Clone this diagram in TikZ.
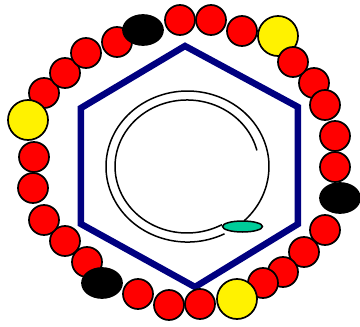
\documentclass[tikz,border=0pt]{standalone}
\usetikzlibrary{shapes.geometric}
\definecolor{hexnavy}{RGB}{0,0,128}
\definecolor{tealbead}{RGB}{0,204,153}
\tikzset{
  bead/.style={circle,draw=black,line width=1.7pt,inner sep=0pt,minimum size=#1},
  redbead/.style={bead=30pt,fill=red},
  yellowbead/.style={bead=40pt,fill=yellow},
  blackbead/.style={ellipse,draw=black,fill=black,line width=1.7pt,inner sep=0pt,minimum width=40pt,minimum height=30pt},
  tealbeadst/.style={ellipse,draw=black,fill=tealbead,line width=1.5pt,inner sep=0pt,minimum width=40pt,minimum height=11pt},
  hexline/.style={draw=hexnavy,line width=6.5pt},
  spiral/.style={draw=black,line width=1.5pt}
}
\begin{document}
\begin{tikzpicture}[x=1pt,y=-1pt]
\useasboundingbox (0,0) rectangle (360,327);
% hexagon
\coordinate (h1) at (185,46);
\coordinate (h2) at (298,107);
\coordinate (h3) at (298,224);
\coordinate (h4) at (195,287);
\coordinate (h5) at (81,224);
\coordinate (h6) at (81,108);
\draw[hexline] (h1) -- (h2) -- (h3) -- (h4) -- (h5) -- (h6) -- cycle;
% spiral
\coordinate (os) at (224.5,233.8);
\coordinate (is) at (256.9,150.4);
\draw[spiral] (os) arc[start angle=63, end angle=406, x radius=81.5, y radius=75.5];
\draw[spiral] (is) arc[start angle=-14, end angle=-299, x radius=72, y radius=66.5];
\node[tealbeadst] (teal) at (242.5,226.5) {};
% red beads
\node[redbead] (r1) at (180,20) {};
\node[redbead] (r2) at (211,20) {};
\node[redbead] (r3) at (242,31) {};
\node[redbead] (r6) at (314,83) {};
\node[redbead] (r7) at (325,105) {};
\node[redbead] (r8) at (335,136) {};
\node[redbead] (r9) at (335,167) {};
\node[redbead] (r11) at (325,230) {};
\node[redbead] (r12) at (304,252) {};
\node[redbead] (r13) at (283,272) {};
\node[redbead] (r14) at (263,283) {};
\node[redbead] (r16) at (200,304) {};
\node[redbead] (r17) at (169,305) {};
\node[redbead] (r18) at (138,294) {};
\node[redbead] (r20) at (87,262) {};
\node[redbead] (r21) at (65,241) {};
\node[redbead] (r22) at (44,220) {};
\node[redbead] (r23) at (33,188) {};
\node[redbead] (r24) at (34,157) {};
\node[redbead] (r26) at (44,93) {};
\node[redbead] (r27) at (65,73) {};
\node[redbead] (r28) at (86,53) {};
\node[redbead] (r29) at (117,42) {};
% yellow beads
\node[yellowbead] (y1) at (278,36) {};
\node[yellowbead] (y2) at (237,299) {};
\node[yellowbead] (y3) at (28,120) {};
% black beads
\node[blackbead] (b1) at (143,30) {};
\node[blackbead] (b2) at (340,198) {};
\node[blackbead] (b3) at (102,283) {};
% bead overlapping the top-right yellow
\node[redbead] (r5) at (293,62) {};
\end{tikzpicture}
\end{document}
